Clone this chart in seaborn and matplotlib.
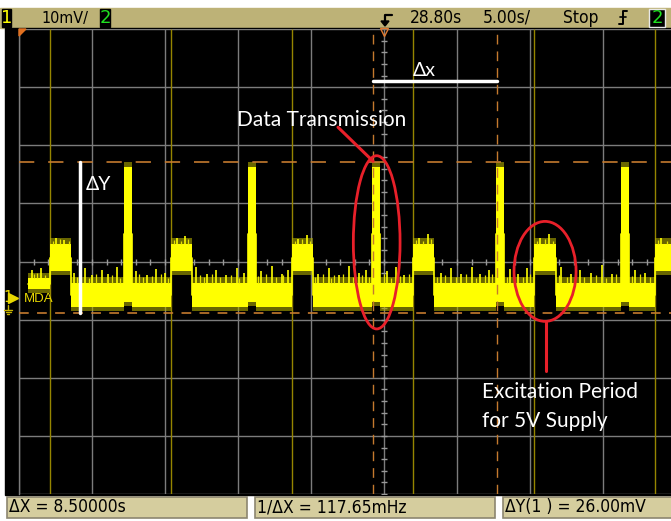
import numpy as np
import pandas as pd
import matplotlib
matplotlib.use("Agg")
import matplotlib.pyplot as plt
import matplotlib.transforms as mtransforms
from matplotlib.patches import Rectangle, Ellipse, Polygon
from matplotlib.lines import Line2D
import seaborn as sns

# ---------------------------------------------------------------------------
# Channel 1 capture (time in s relative to screen centre, amplitude in mV)
# ---------------------------------------------------------------------------
pre_start = -24.38
pre_level = (3.6, 1.7)          # (top, bottom) of trace before first excitation
base_level = (2.75, -1.4)       # idle level
exc_level = (9.5, 4.8)          # excitation period level
pulse_top = 22.7                # data transmission burst
pulse_floor = -0.4

exc_start = [-22.88, -14.59, -6.30, 1.99, 10.27, 18.56]
exc_end = [-21.44, -13.15, -4.86, 3.42, 11.78, 25.0]
pulse_start = [-17.80, -9.30, -0.80, 7.70, 16.20]
pulse_end = [-17.25, -8.75, -0.25, 8.25, 16.75]

# larger noise glitches riding on the trace
spike_t = [-24.1, -23.5, -22.5, -21.9, -21.2, -20.5, -20.0, -19.3, -18.9, -18.3,
           -17.0, -16.2, -15.6, -15.0, -14.2, -13.6, -12.9, -12.1, -11.5, -10.8,
           -10.1, -9.6, -8.4, -7.7, -7.0, -6.6, -5.9, -5.3, -4.5, -3.8,
           -3.1, -2.4, -1.7, -1.2, 0.2, 0.8, 1.4, 2.4, 3.0, 3.9,
           4.6, 5.3, 6.0, 6.6, 7.2, 8.6, 9.2, 9.8, 10.7, 11.3,
           12.1, 12.8, 13.4, 14.2, 14.9, 15.6, 17.2, 17.9, 19.0, 19.8]
spike_v = [5.0, 5.3, 10.6, 10.2, 4.6, 5.4, 4.1, 5.0, 4.3, 5.6,
           4.8, 4.2, 5.2, 4.5, 10.5, 10.9, 5.5, 4.4, 5.0, 4.2,
           5.3, 4.6, 4.9, 5.7, 4.3, 5.0, 10.4, 11.0, 4.4, 5.3,
           4.1, 5.8, 4.5, 5.1, 4.8, 5.5, 4.2, 10.6, 11.2, 4.6,
           5.4, 4.3, 5.6, 4.4, 5.0, 5.2, 4.4, 5.3, 10.5, 11.3,
           5.5, 4.3, 5.0, 4.6, 5.9, 4.4, 5.1, 4.5, 10.6, 11.0]

# small ripple on the trace edges
ripple_t = [-24.0, -23.8, -23.2, -22.7, -22.2, -21.6, -21.0, -20.8, -20.2, -19.7,
            -19.0, -18.6, -18.1, -16.8, -16.5, -15.9, -15.3, -14.8, -14.4, -13.9,
            -13.4, -12.6, -12.3, -11.8, -11.2, -10.5, -9.9, -8.6, -8.1, -7.4,
            -6.9, -6.1, -5.6, -5.1, -4.7, -4.2, -3.6, -3.4, -2.8, -2.1,
            -1.5, -1.0, 0.0, 0.5, 1.1, 1.7, 2.2, 2.7, 3.2, 3.6,
            4.2, 4.9, 5.6, 6.3, 6.9, 7.4, 8.4, 8.9, 9.5, 10.0,
            10.5, 11.0, 11.6, 12.0, 12.5, 13.1, 13.7, 14.5, 15.2, 15.9,
            17.0, 17.5, 18.2, 18.8, 19.4, 20.2, 21.0]
ripple_v = [4.3, 4.6, 4.1, 10.1, 10.3, 10.0, 3.8, 4.2, 3.7, 4.4,
            3.9, 4.1, 3.6, 4.3, 3.8, 4.0, 4.4, 3.7, 10.2, 10.0,
            10.3, 4.1, 3.8, 4.3, 3.9, 4.2, 3.7, 4.0, 4.4, 3.8,
            4.1, 10.1, 10.4, 10.0, 3.9, 4.3, 3.7, 4.1, 4.4, 3.8,
            4.2, 3.9, 4.3, 3.7, 4.0, 4.4, 10.2, 10.0, 10.4, 3.9,
            4.2, 3.8, 4.4, 3.7, 4.1, 4.3, 3.9, 4.2, 3.8, 4.4,
            10.1, 10.3, 10.0, 4.2, 3.8, 4.4, 3.9, 4.1, 3.7, 4.3,
            4.0, 4.4, 3.8, 10.2, 10.0, 10.4, 10.1]

# measurement cursors
cursor_x = [-0.75, 7.75]        # ΔX = 8.5 s
cursor_y = [-2.3, 23.7]         # ΔY = 26 mV

# screen scaling: 5 s/div, 10 mV/div
t_min, t_max = -25.0, 25.0
v_min, v_max = -33.5, 46.5

top_labels = ["10mV/", "28.80s", "5.00s/", "Stop"]
bottom_labels = ["ΔX = 8.50000s", "1/ΔX = 117.65mHz", "ΔY(1 ) = 26.00mV"]

# ---------------------------------------------------------------------------
sns.set_theme(style="dark")
plt.rcParams["font.family"] = ["DejaVu Sans"]
plt.rcParams["lines.scale_dashes"] = False

W, H = 671, 521
fig = plt.figure(figsize=(W / 100, H / 100), dpi=100, facecolor="white")


def fx(x):
    return x / W


def fy(y):
    return 1 - y / H


NARROW = ["Liberation Sans Narrow", "DejaVu Sans"]
ANNOT = ["Lato", "DejaVu Sans"]
TRACE = "#ffff00"
CURSOR = "#c47a2e"

# instrument chrome
fig.patches.append(Rectangle((fx(0), fy(28)), 1, 20 / H, transform=fig.transFigure,
                             color="#bdb277", zorder=-5))
fig.patches.append(Rectangle((fx(5), fy(495)), 1, 467 / H, transform=fig.transFigure,
                             color="black", zorder=-5))

# screen
ax = fig.add_axes([fx(19), fy(494), 730 / W, 465 / H], zorder=1)
ax.set_facecolor("black")
ax.set_xlim(t_min, t_max)
ax.set_ylim(v_min, v_max)
ax.set_xticks(np.arange(t_min, t_max + 0.1, 5))
ax.set_yticks(np.arange(v_min, v_max + 0.1, 10))
ax.grid(True, color="#7c7c7c", lw=1)
ax.set_axisbelow(True)
ax.tick_params(length=0, labelleft=False, labelbottom=False)
for side, sp in ax.spines.items():
    sp.set_visible(side == "left")
    sp.set_color("#7c7c7c")
    sp.set_linewidth(1)

# minor ticks on the centre axes
centre_v = (v_min + v_max) / 2
ax.plot(np.arange(t_min, t_max, 1), np.full(50, centre_v), ls="none", marker="|",
        ms=4, mew=1, color="#9a9a9a", zorder=1)
ax.plot(np.zeros(40), np.arange(v_min, v_max, 2), ls="none", marker="_",
        ms=4, mew=1, color="#9a9a9a", zorder=1)

# excitation markers
ax.vlines(exc_start, v_min, v_max, color="#958500", lw=1, zorder=1)


# trace
def level_at(t):
    if t < pre_start:
        return (np.nan, np.nan)
    for s, e in zip(exc_start, exc_end):
        if s <= t < e:
            return exc_level
    for s, e in zip(pulse_start, pulse_end):
        if s <= t < e:
            return (pulse_top, pulse_floor)
    if t < exc_start[0]:
        return pre_level
    return base_level


edges = np.array(sorted(set([pre_start] + exc_start + exc_end + pulse_start + pulse_end)))
mids = (edges[:-1] + edges[1:]) / 2
lv = np.array([level_at(m) for m in mids])
tops = np.append(lv[:, 0], lv[-1, 0])
bots = np.append(lv[:, 1], lv[-1, 1])

ax.fill_between(edges, bots - 0.7, tops + 1.0, step="post", color="#b0ac00",
                alpha=0.6, lw=0, zorder=3)
ax.fill_between(edges, bots, tops, step="post", color=TRACE, lw=0, zorder=4)
trace = pd.DataFrame({"t": edges, "v": (tops + bots) / 2})
sns.lineplot(data=trace, x="t", y="v", drawstyle="steps-post", color=TRACE, lw=1.2,
             ax=ax, zorder=4)
spike_base = [level_at(t)[0] for t in spike_t]
ax.vlines(spike_t, spike_base, spike_v, color=TRACE, lw=1.2, zorder=4)
ripple_base = [level_at(t)[0] for t in ripple_t]
ax.vlines(ripple_t, ripple_base, ripple_v, color="#e6e200", lw=0.9, zorder=4)
ax.set_xlabel("")
ax.set_ylabel("")

# cursors
for cx in cursor_x:
    ax.axvline(cx, color=CURSOR, lw=1, ls=(0, (7, 5)), zorder=5)
ax.axhline(cursor_y[1], color=CURSOR, lw=1.2, ls=(0, (11, 10)), zorder=5)
ax.axhline(cursor_y[0], color=CURSOR, lw=1.2, ls=(0, (7, 6)), zorder=5)

# trigger position marker
ax.plot(0, v_max - 0.5, marker="v", mfc="none", mec="#e07a30", ms=6, mew=1,
        clip_on=False, zorder=6)

# ΔX / ΔY markers
ax.plot([-20.82, -20.82], cursor_y, color="white", lw=2.5, zorder=6)
ax.text(-20.4, 19.8, "ΔY", color="white", fontsize=14, family=ANNOT, va="center",
        ha="left", zorder=6)
ax.plot(cursor_x, [37.5, 37.5], color="white", lw=2.5, zorder=6)
ax.text(1.99, 39.4, "Δx", color="white", fontsize=14, family=ANNOT, va="center",
        ha="left", zorder=6)

# annotations
RED = "#e8202a"
ax.add_patch(Ellipse((-0.5, 9.8), 3.2, 29.8, fill=False, ec=RED, lw=2, zorder=7))
ax.add_patch(Ellipse((11.03, 4.8), 4.25, 17.2, fill=False, ec=RED, lw=2, zorder=7))
ax.plot([-3.15, -0.75], [29.6, 23.75], color=RED, lw=2.2, zorder=7)
ax.plot([11.1, 11.1], [-3.8, -12.4], color=RED, lw=2.2, zorder=7)
ax.text(-10.1, 30.9, "Data Transmission", color="white", fontsize=15, family=ANNOT,
        va="center", ha="left", zorder=7)
ax.text(6.7, -16.0, "Excitation Period", color="white", fontsize=15, family=ANNOT,
        va="center", ha="left", zorder=7)
ax.text(6.7, -21.0, "for 5V Supply", color="white", fontsize=15, family=ANNOT,
        va="center", ha="left", zorder=7)

# channel ground marker (drawn over the screen)
bl = mtransforms.blended_transform_factory(fig.transFigure, ax.transData)
ax.text(fx(3), 0.3, "1", transform=bl, color="#e8d800", fontsize=10.5, family=NARROW,
        va="center", ha="left", clip_on=False, zorder=8)
ax.plot([fx(12.5)], [0.3], transform=bl, marker=">", ms=6.5, color="#e8d800", ls="none",
        clip_on=False, zorder=8)
ax.text(fx(24), 0.1, "MDA", transform=bl, color="#e8d800", fontsize=9.5,
        family=["Liberation Sans", "DejaVu Sans"], va="center", ha="left", zorder=8)
gnd = [((8, 8), (305, 310)), ((4, 12), (310, 310)), ((5.5, 10.5), (312, 312)),
       ((7, 9), (314, 314))]
for xs, ys in gnd:
    fig.add_artist(Line2D([fx(xs[0]), fx(xs[1])], [fy(ys[0]), fy(ys[1])],
                          transform=fig.transFigure, color="#c8b400", lw=1, zorder=5))

# top-left corner flag
fig.add_artist(Polygon([(fx(19), fy(29)), (fx(26), fy(29)), (fx(19), fy(36))],
                       transform=fig.transFigure, color="#e07020", zorder=5))


# status bar (top)
def chan_box(x0, x1, label, color, edge="black"):
    fig.add_artist(Rectangle((fx(x0), fy(27)), (x1 - x0) / W, 18 / H,
                             transform=fig.transFigure, fc="black", ec=edge, lw=1, zorder=5))
    fig.text(fx((x0 + x1) / 2), fy(18), label, color=color, fontsize=13, family=NARROW,
             ha="center", va="center", zorder=6)


chan_box(2, 11, "1", "#ffff00")
chan_box(100, 110, "2", "#20e020")
chan_box(649, 665, "2", "#20e020", edge="#e8e8e8")

for xpos, txt, fs in zip([41, 410, 483, 563], top_labels, [11.5, 12.5, 12.5, 12.5]):
    fig.text(fx(xpos), fy(18), txt, color="black", fontsize=fs, family=NARROW,
             fontstretch="condensed", ha="left", va="center", zorder=6)

# trigger point glyph
fig.add_artist(Line2D([fx(392), fx(385), fx(385)], [fy(15), fy(15), fy(25)],
                      transform=fig.transFigure, color="black", lw=1.6, zorder=6))
fig.add_artist(Polygon([(fx(381), fy(21)), (fx(389), fy(21)), (fx(385), fy(26))],
                       transform=fig.transFigure, color="black", zorder=6))
# rising-edge trigger glyph
fig.add_artist(Line2D([fx(619), fx(623), fx(623), fx(627)], [fy(24), fy(24), fy(11), fy(11)],
                      transform=fig.transFigure, color="black", lw=1.4, zorder=6))
fig.add_artist(Line2D([fx(620), fx(626)], [fy(17), fy(17)],
                      transform=fig.transFigure, color="black", lw=1.2, zorder=6))

# measurement bar (bottom)
for (x0, x1), txt in zip([(7, 247), (255, 495), (503, 676)], bottom_labels):
    fig.add_artist(Rectangle((fx(x0), fy(518)), (x1 - x0) / W, 21 / H,
                             transform=fig.transFigure, fc="#d5cd9e", ec="#8c8670",
                             lw=1.2, zorder=5))
    fig.text(fx(x0 + 2), fy(507.5), txt, color="black", fontsize=12.5, family=NARROW,
             fontstretch="condensed", ha="left", va="center", zorder=6)

fig.savefig("out.png", dpi=100, facecolor="white")
